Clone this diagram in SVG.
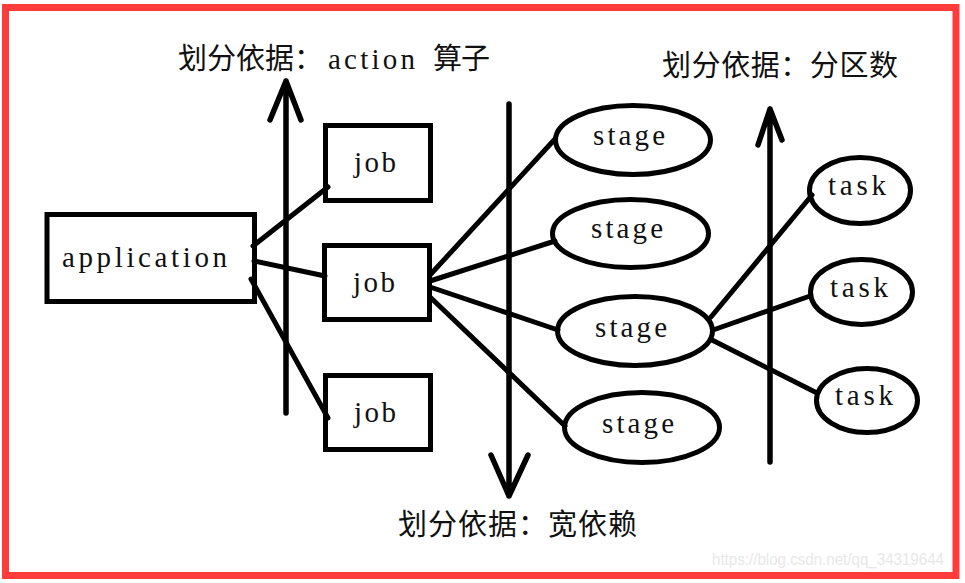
<svg xmlns="http://www.w3.org/2000/svg" width="965" height="583" viewBox="0 0 965 583">
<style>
.bg{fill:#ffffff}
.frame{fill:none;stroke:#ff3b3b;stroke-width:7}
.box{fill:none;stroke:#000;stroke-width:5}
.ell{fill:none;stroke:#000;stroke-width:5}
.lbl{font-family:"Liberation Serif","Noto Sans CJK SC",serif;font-size:29px;fill:#111}
.cjk{font-family:"Noto Sans CJK SC","Liberation Serif",serif;font-size:29px;fill:#111}
.lat{font-family:"Liberation Serif",serif;font-size:29px}
.edge{stroke:#000;stroke-width:5;fill:none;stroke-linecap:round}
.axis{stroke:#000;stroke-width:5.5;fill:none;stroke-linecap:round;stroke-linejoin:round}
.wm{font-family:"Liberation Sans",Arial,sans-serif;font-size:16px;fill:#e8e8e8}
</style>
<rect class="bg" x="0" y="0" width="965" height="583"/>
<rect class="frame" x="5.5" y="7.5" width="950.5" height="568"/>

<g id="axes">
  <path class="axis" d="M286,413 V81 M270,120 L286,81 L301,120"/>
  <path class="axis" d="M509,104 V496 M491,455 L509,496 L528,455"/>
  <path class="axis" d="M770,462 V109 M758,145 L770,109 L782,140"/>
</g>

<g id="connectors">
  <line class="edge" x1="253" y1="246" x2="328" y2="187"/>
  <line class="edge" x1="254" y1="261" x2="325" y2="276"/>
  <line class="edge" x1="251" y1="279" x2="328" y2="418"/>
  <line class="edge" x1="430" y1="275" x2="555" y2="139"/>
  <line class="edge" x1="430" y1="281" x2="555" y2="241"/>
  <line class="edge" x1="430" y1="287" x2="558" y2="330"/>
  <line class="edge" x1="430" y1="297" x2="565" y2="426"/>
  <line class="edge" x1="711" y1="317" x2="812" y2="195"/>
  <line class="edge" x1="713" y1="330" x2="810" y2="296"/>
  <line class="edge" x1="712" y1="340" x2="817" y2="393"/>
</g>

<g id="application">
  <rect class="box" x="47" y="214.5" width="207.5" height="87"/>
  <text class="lbl" x="62" y="267" textLength="165" lengthAdjust="spacing">application</text>
</g>
<g id="job1">
  <rect class="box" x="325.5" y="125.5" width="105" height="75"/>
  <text class="lbl" x="354" y="172" textLength="42" lengthAdjust="spacing">job</text>
</g>
<g id="job2">
  <rect class="box" x="324.5" y="245.5" width="105" height="74"/>
  <text class="lbl" x="353" y="292" textLength="42" lengthAdjust="spacing">job</text>
</g>
<g id="job3">
  <rect class="box" x="325.5" y="375.5" width="105" height="74"/>
  <text class="lbl" x="354" y="422" textLength="42" lengthAdjust="spacing">job</text>
</g>

<g id="stage1">
  <ellipse class="ell" cx="633" cy="140" rx="77.5" ry="34.5"/>
  <text class="lbl" x="593" y="145" textLength="72" lengthAdjust="spacing">stage</text>
</g>
<g id="stage2">
  <ellipse class="ell" cx="630.5" cy="233.5" rx="78" ry="34"/>
  <text class="lbl" x="591" y="238" textLength="72" lengthAdjust="spacing">stage</text>
</g>
<g id="stage3">
  <ellipse class="ell" cx="635" cy="331" rx="77.5" ry="34.5"/>
  <text class="lbl" x="595" y="337" textLength="72" lengthAdjust="spacing">stage</text>
</g>
<g id="stage4">
  <ellipse class="ell" cx="642" cy="427.5" rx="77.5" ry="35"/>
  <text class="lbl" x="602" y="433" textLength="72" lengthAdjust="spacing">stage</text>
</g>

<g id="task1">
  <ellipse class="ell" cx="860" cy="190.5" rx="50.5" ry="33"/>
  <text class="lbl" x="828" y="195" textLength="58" lengthAdjust="spacing">task</text>
</g>
<g id="task2">
  <ellipse class="ell" cx="861.5" cy="292" rx="51" ry="32.5"/>
  <text class="lbl" x="830" y="297" textLength="58" lengthAdjust="spacing">task</text>
</g>
<g id="task3">
  <ellipse class="ell" cx="867" cy="400.5" rx="50.5" ry="32"/>
  <text class="lbl" x="835" y="405" textLength="58" lengthAdjust="spacing">task</text>
</g>

<g id="labels">
  <text class="cjk" x="178" y="69"><tspan textLength="145" lengthAdjust="spacing">划分依据：</tspan><tspan class="lat" x="328" textLength="87" lengthAdjust="spacing">action</tspan><tspan x="433" textLength="57" lengthAdjust="spacing">算子</tspan></text>
  <text class="cjk" x="662" y="76" textLength="236" lengthAdjust="spacing">划分依据：分区数</text>
  <text class="cjk" x="398" y="535" textLength="239" lengthAdjust="spacing">划分依据：宽依赖</text>
</g>

<text class="wm" x="712" y="565" textLength="232" lengthAdjust="spacingAndGlyphs">https://blog.csdn.net/qq_34319644</text>
</svg>
